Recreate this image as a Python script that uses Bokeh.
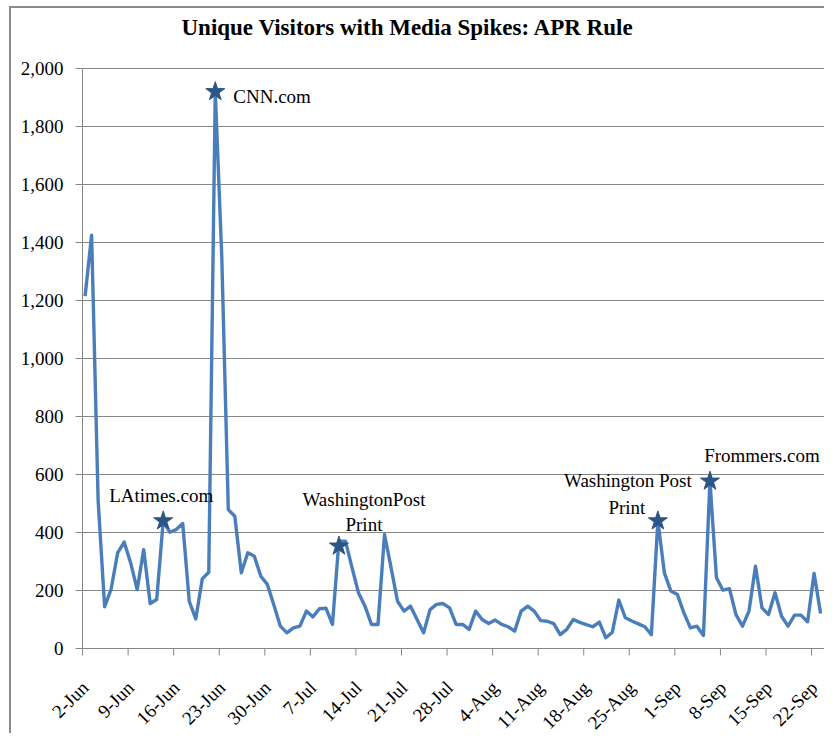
import math
from bokeh.plotting import figure
from bokeh.models import Range1d, Label
from bokeh.embed import file_html
from bokeh.resources import INLINE

# Daily unique visitors, 2-Jun .. 23-Sep (one value per day)
visitors = [
    1215, 1425, 510, 144, 205, 330, 367, 295, 203, 341,
    155, 169, 439, 401, 410, 431, 163, 102, 240, 263,
    1920, 1350, 479, 456, 261, 330, 318, 249, 221, 150,
    77, 54, 71, 77, 129, 109, 137, 139, 83, 370,
    370, 280, 192, 146, 83, 83, 393, 280, 163, 129,
    146, 100, 54, 134, 152, 155, 140, 83, 83, 66,
    129, 100, 86, 98, 83, 75, 60, 129, 146, 129,
    96, 94, 86, 48, 66, 100, 90, 82, 75, 91,
    37, 56, 167, 106, 95, 85, 75, 48, 440, 261,
    198, 186, 123, 71, 77, 45, 577, 244, 201, 206,
    117, 77, 129, 284, 140, 117, 192, 111, 77, 115,
    115, 92, 259, 121,
]
day_index = list(range(len(visitors)))

# Weekly tick labels (every 7th day starting at 2-Jun)
tick_labels = ["2-Jun", "9-Jun", "16-Jun", "23-Jun", "30-Jun", "7-Jul", "14-Jul",
               "21-Jul", "28-Jul", "4-Aug", "11-Aug", "18-Aug", "25-Aug", "1-Sep",
               "8-Sep", "15-Sep", "22-Sep"]
tick_step = 7

# y axis values
y_values = list(range(0, 2001, 200))

# Media spikes (star markers)
spike_days = [12, 20, 39, 88, 96]
spike_values = [440, 1920, 353, 440, 577]
spike_names = ["LAtimes.com", "CNN.com", "WashingtonPost|Print",
               "Washington Post|Print", "Frommers.com"]

TITLE = "Unique Visitors with Media Spikes: APR Rule"
FONT = "Liberation Serif"
GRAY = "#868686"

# layout (pixels); the frame covers the whole canvas so that all
# texts (title, axis labels) can be drawn inside it
W, H = 815, 727
AREA_LEFT, AREA_RIGHT = 71, 2       # plot area inset from canvas edges
AREA_TOP, AREA_H = 60, 580          # value area inside the canvas
AREA_BOTTOM = H - AREA_TOP - AREA_H

x_start = -0.4
x_end = len(visitors) + x_start
y_max = max(y_values)
px_per_day = (W - AREA_LEFT - AREA_RIGHT) / (x_end - x_start)
per_px = y_max / AREA_H

p = figure(width=W, height=H, output_backend="svg", toolbar_location=None,
           x_range=Range1d(x_start - AREA_LEFT / px_per_day,
                           x_end + AREA_RIGHT / px_per_day),
           y_range=Range1d(-AREA_BOTTOM * per_px, y_max + AREA_TOP * per_px),
           x_axis_location=None, y_axis_location=None,
           min_border_left=0, min_border_right=0, min_border_top=0,
           min_border_bottom=0,
           styles={"border-top": "2px solid #8a8a8a",
                   "border-left": "2px solid #8a8a8a",
                   "margin-left": "9px", "margin-top": "6px"})
p.outline_line_color = None
p.grid.visible = False

n_y = len(y_values)
# horizontal gridlines across the plot area
p.segment(x0=[x_start] * n_y, y0=y_values, x1=[x_end] * n_y, y1=y_values,
          line_color=GRAY, line_width=1)
# y axis line and outward tick marks
p.segment(x0=[x_start], y0=[0], x1=[x_start], y1=[y_max],
          line_color=GRAY, line_width=1)
tick_w = 7 / px_per_day
p.segment(x0=[x_start - tick_w] * n_y, y0=y_values, x1=[x_start] * n_y,
          y1=y_values, line_color=GRAY, line_width=1)
for v in y_values:
    p.add_layout(Label(x=x_start, y=v, x_offset=-19, y_offset=0,
                       text=f"{v:,}", text_align="right",
                       text_baseline="middle", text_font=FONT,
                       text_font_size="19px", text_color="black"))

# x tick marks at week boundaries, pointing down from the zero line
edge_ticks = [tick_step * k + x_start + 0.01 for k in range(len(tick_labels))]
tick_len = 7 * per_px
p.segment(x0=edge_ticks, y0=[0] * len(edge_ticks), x1=edge_ticks,
          y1=[-tick_len] * len(edge_ticks), line_color=GRAY, line_width=1)

# rotated date labels, ending at each labelled day
for k, lbl in enumerate(tick_labels):
    p.add_layout(Label(x=k * tick_step, y=0, x_offset=0, y_offset=-36,
                       angle=math.pi / 4, text=lbl,
                       text_align="right", text_baseline="middle",
                       text_font=FONT, text_font_size="19px",
                       text_color="black"))

# title
p.add_layout(Label(x=x_start, y=y_max, x_offset=99, y_offset=41, text=TITLE,
                   text_align="left", text_baseline="middle",
                   text_font=FONT, text_font_size="23px",
                   text_font_style="bold", text_color="black"))

# data
p.line(day_index, visitors, line_color="#4A7EBB", line_width=3.4,
       line_join="round")
p.scatter(spike_days, spike_values, marker="star", size=20,
          fill_color="#2C5486", line_color="#2C5486")

# annotation text offsets (pixels) relative to each star
offsets = [
    [(-2, 25, "center")],
    [(18, -5, "left")],
    [(25, 47, "center"), (25, 22, "center")],
    [(-30, 40, "center"), (-31, 13, "center")],
    [(52, 26, "center")],
]
for d, v, name, offs in zip(spike_days, spike_values, spike_names, offsets):
    for line_txt, (dx, dy, align) in zip(name.split("|"), offs):
        p.add_layout(Label(x=d, y=v, x_offset=dx, y_offset=dy, text=line_txt,
                           text_align=align, text_baseline="middle",
                           text_font=FONT, text_font_size="19px",
                           text_color="black"))

open("out.html", "w").write(file_html(p, INLINE))
